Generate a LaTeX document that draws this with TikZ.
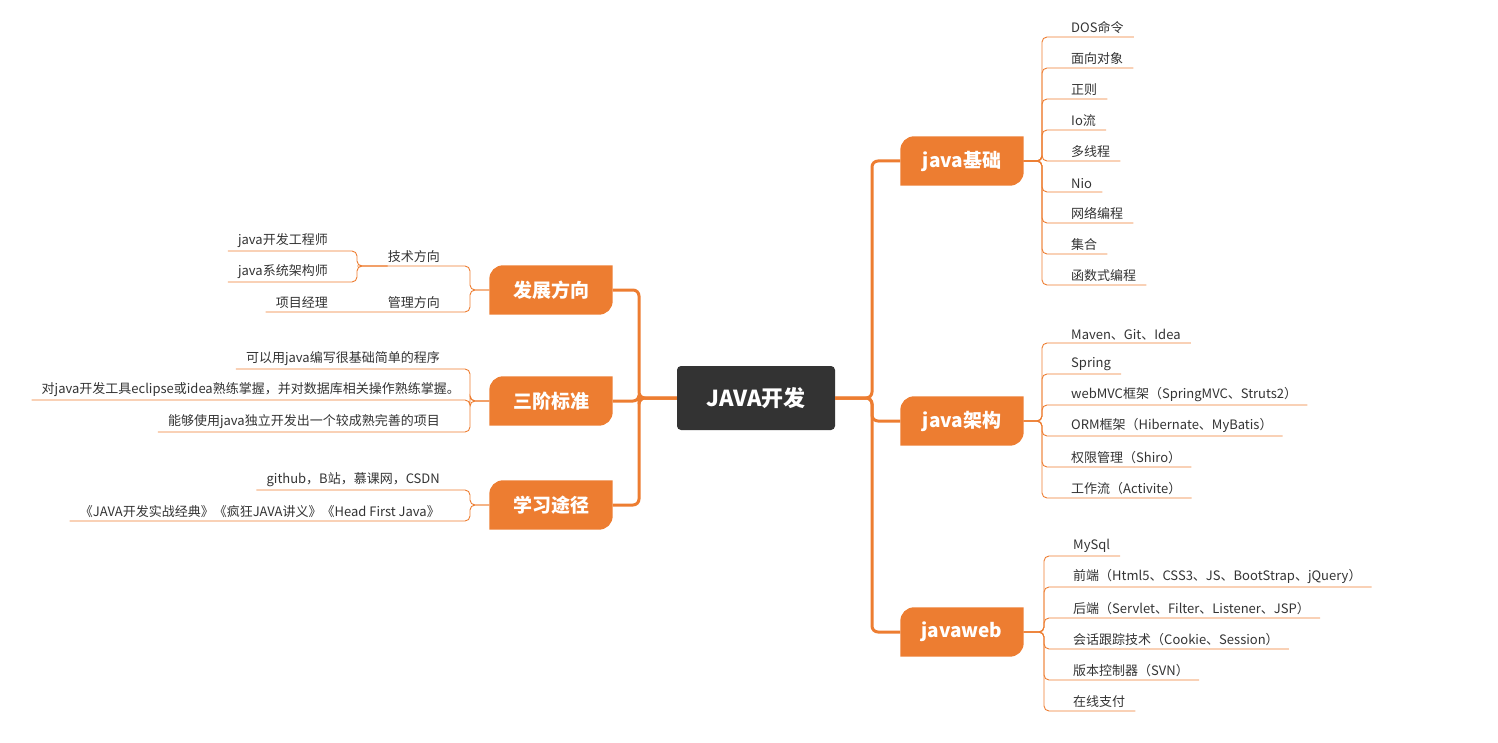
\documentclass[tikz,border=0pt]{standalone}
\usepackage{fontspec}
\setmainfont{Noto Sans CJK SC}
\usetikzlibrary{backgrounds}
\definecolor{mmorange}{HTML}{ED7D31}
\definecolor{mmdark}{HTML}{333333}
\tikzset{%
  % Specifications for style of nodes:
     centre/.style = {rectangle, rounded corners=4pt, fill=mmdark, text=white,
                      minimum width=158pt, minimum height=64pt,
                      font=\fontsize{22}{26}\selectfont\bfseries},
     branch/.style = {rectangle, text=white, minimum width=123pt, minimum height=49pt,
                      font=\fontsize{19}{23}\selectfont\bfseries},
       leaf/.style = {inner xsep=0pt, inner ysep=3pt, text=mmdark,
                      font=\fontsize{13}{15}\selectfont},
      trunk/.style = {draw=mmorange, line width=3pt, rounded corners=6pt},
       twig/.style = {draw=mmorange, line width=0.9pt, rounded corners=5pt}
}
% leaf shaped box behind a branch node
\newcommand{\leafbox}[1]{%
  \fill[mmorange] (#1.south west) -- ([yshift=-14pt]#1.north west)
    .. controls ([yshift=-6pt]#1.north west) and ([xshift=6pt]#1.north west) .. ([xshift=14pt]#1.north west)
    -- (#1.north east) -- ([yshift=14pt]#1.south east)
    .. controls ([yshift=6pt]#1.south east) and ([xshift=-6pt]#1.south east) .. ([xshift=-14pt]#1.south east)
    -- cycle;}
\begin{document}
\begin{tikzpicture}[x=1pt, y=-1pt]
  \useasboundingbox (0,0) rectangle (1498,743);

  % Specification of nodes (position, etc.)
  \node (java)  [centre] at (756,398) {JAVA开发};
  \node (jb)    [branch] at (962,161) {java基础};
  \node (jg)    [branch] at (962,421) {java架构};
  \node (web)   [branch] at (962,632) {javaweb};
  \node (fz)    [branch] at (551,290) {发展方向};
  \node (sj)    [branch] at (551,401) {三阶标准};
  \node (xx)    [branch] at (551,505) {学习途径};
  \begin{scope}[on background layer]
    \foreach \n in {jb,jg,web,fz,sj,xx} {\leafbox{\n}}
  \end{scope}

  % right side leaves
  \foreach \t [count=\i] in {DOS命令,面向对象,正则,Io流,多线程,Nio,网络编程,集合,函数式编程}
    \node (jb\i) [leaf, anchor=south west] at (1071,6+31*\i) {\t};
  \foreach \t [count=\i] in {{Maven、Git、Idea},Spring,{webMVC框架（SpringMVC、Struts2）},
      {ORM框架（Hibernate、MyBatis）},权限管理（Shiro）,工作流（Activite）}
    \node (jg\i) [leaf, anchor=south west] at (1071,312+31*\i) {\t};
  \foreach \t [count=\i] in {MySql,{前端（Html5、CSS3、JS、BootStrap、jQuery）},
      {后端（Servlet、Filter、Listener、JSP）},{会话跟踪技术（Cookie、Session）},
      版本控制器（SVN）,在线支付}
    \node (web\i) [leaf, anchor=south west] at (1073,525+31*\i) {\t};

  % left side leaves
  \node (jsfx) [leaf, anchor=south east] at (440,266) {技术方向};
  \node (glfx) [leaf, anchor=south east] at (440,312) {管理方向};
  \node (kfgc) [leaf, anchor=south east] at (328,251) {java开发工程师};
  \node (xtjg) [leaf, anchor=south east] at (328,282) {java系统架构师};
  \node (xmjl) [leaf, anchor=south east] at (328,312) {项目经理};
  \node (sj1)  [leaf, anchor=south east] at (440,369) {可以用java编写很基础简单的程序};
  \node (sj2)  [leaf, anchor=south east] at (460,400) {对java开发工具eclipse或idea熟练掌握，并对数据库相关操作熟练掌握。};
  \node (sj3)  [leaf, anchor=south east] at (440,432) {能够使用java独立开发出一个较成熟完善的项目};
  \node (xx1)  [leaf, anchor=south east] at (440,490) {github，B站，慕课网，CSDN};
  \node (xx2)  [leaf, anchor=south east] at (440,521) {《JAVA开发实战经典》《疯狂JAVA讲义》《Head First Java》};

  % Specification of lines between nodes specified above
  \foreach \n in {jb,jg,web} \draw[trunk] (java.east) -- (872,398) |- (\n.west);
  \foreach \n in {fz,sj,xx} \draw[trunk] (java.west) -- (639,398) |- (\n.east);

  \foreach \i in {1,...,9} \draw[twig] (jb.east) -- (1042,161) |- ([xshift=10pt]jb\i.south east);
  \foreach \i in {1,...,6} \draw[twig] (jg.east) -- (1042,421) |- ([xshift=10pt]jg\i.south east);
  \foreach \i in {1,...,6} \draw[twig] (web.east) -- (1044,632) |- ([xshift=10pt]web\i.south east);

  \draw[twig] (fz.west) -- (470,290) |- (jsfx.south west) -- (357,266);
  \draw[twig] (fz.west) -- (470,290) |- (glfx.south west) -- ([xshift=-10pt]xmjl.south west);
  \foreach \n in {kfgc,xtjg} \draw[twig] (jsfx.south west) -- (357,266) |- ([xshift=-10pt]\n.south west);
  \foreach \n in {sj1,sj2,sj3} \draw[twig] (sj.west) -- (470,401) |- ([xshift=-10pt]\n.south west);
  \foreach \n in {xx1,xx2} \draw[twig] (xx.west) -- (470,505) |- ([xshift=-10pt]\n.south west);
\end{tikzpicture}
\end{document}
